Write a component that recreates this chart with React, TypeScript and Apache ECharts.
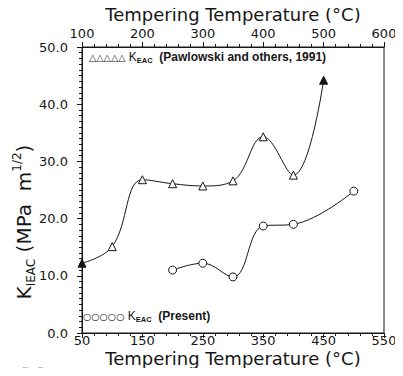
import React, { useEffect, useRef } from "react";
import * as echarts from "echarts";

// Pawlowski and others, 1991 (plotted on the top temperature axis)
const pawTemps = [100, 150, 200, 250, 300, 350, 400, 450, 500];
const pawK = [12.2, 15.1, 26.8, 26.1, 25.7, 26.6, 34.3, 27.6, 44.2];
const pawFilled = [0, 8];

// Present work (plotted on the bottom temperature axis)
const presentTemps = [200, 250, 300, 350, 400, 500];
const presentK = [11.0, 12.2, 9.8, 18.7, 19.0, 24.8];

const bottomTicks = { min: 50, max: 550, interval: 100 };
const topTicks = { min: 100, max: 600, interval: 100 };
const yTicks = { min: 0, max: 50, interval: 10 };

const FONT = "DejaVu Sans";
const INK = "#161616";

export default function App() {
  const ref = useRef<HTMLDivElement>(null);

  useEffect(() => {
    if (!ref.current) return;
    const chart = echarts.init(ref.current, null, { renderer: "svg" });

    const axisCommon = {
      type: "value" as const,
      axisLine: { show: true, onZero: false, lineStyle: { color: INK, width: 1 } },
      axisTick: { show: true, inside: false, length: 5, lineStyle: { color: INK } },
      minorTick: { show: true, splitNumber: 5, length: 3, lineStyle: { color: INK } },
      splitLine: { show: false },
      nameLocation: "middle" as const,
      nameMoveOverlap: false,
      nameTextStyle: { fontSize: 18, color: INK, fontFamily: FONT },
    };

    const pawData = pawTemps.map((t, i) => {
      const filled = pawFilled.indexOf(i) >= 0;
      return {
        value: [t, pawK[i]],
        itemStyle: { color: filled ? INK : "#fff", borderColor: INK, borderWidth: 1 },
      };
    });
    const presentData = presentTemps.map((t, i) => [t, presentK[i]]);

    const legendRich = (markSize: number) => ({
      m: { fontSize: markSize, lineHeight: 15, fontFamily: FONT, fill: INK, verticalAlign: "middle" },
      k: { fontSize: 12, lineHeight: 15, fontFamily: "Liberation Sans", fill: INK, verticalAlign: "middle" },
      t: { fontSize: 12, lineHeight: 15, fontFamily: "Liberation Sans", fill: INK, verticalAlign: "middle", fontWeight: "bold" },
      sub: { fontSize: 7.5, lineHeight: 9, fontFamily: "Liberation Sans", fill: INK, verticalAlign: "bottom", fontWeight: "bold" },
    });

    chart.setOption({
      animation: false,
      backgroundColor: "#fff",
      grid: {
        left: 82,
        right: 19,
        top: 47,
        bottom: 43,
        show: true,
        borderColor: INK,
        borderWidth: 1,
        backgroundColor: "transparent",
      },
      xAxis: [
        {
          ...axisCommon,
          position: "bottom",
          min: bottomTicks.min,
          max: bottomTicks.max,
          interval: bottomTicks.interval,
          axisLabel: { fontSize: 13, color: INK, fontFamily: FONT, margin: 1 },
          name: "Tempering Temperature (°C)",
          nameGap: 16,
          nameTextStyle: { fontSize: 18, color: INK, fontFamily: FONT, verticalAlign: "top" },
        },
        {
          ...axisCommon,
          position: "top",
          min: topTicks.min,
          max: topTicks.max,
          interval: topTicks.interval,
          axisLabel: { fontSize: 13, color: INK, fontFamily: FONT, margin: 7 },
          name: "Tempering Temperature (°C)",
          nameGap: 24,
        },
      ],
      yAxis: {
        ...axisCommon,
        min: yTicks.min,
        max: yTicks.max,
        interval: yTicks.interval,
        minorTick: { show: true, splitNumber: 10, length: 3, lineStyle: { color: INK } },
        axisLabel: {
          fontSize: 13,
          color: INK,
          fontFamily: FONT,
          margin: 14,
          formatter: (v: number) => v.toFixed(1),
        },
      },
      graphic: [
        {
          type: "text",
          x: 24,
          y: 222,
          rotation: Math.PI / 2,
          style: {
            text: "{k|K}{sub|IEAC}{t| (MPa  m}{sup|1/2}{t|)}",
            align: "center",
            verticalAlign: "middle",
            fill: INK,
            rich: {
              k: { fontSize: 20, lineHeight: 26, fontFamily: FONT, fill: INK, verticalAlign: "middle" },
              t: { fontSize: 20, lineHeight: 26, fontFamily: FONT, fill: INK, verticalAlign: "middle" },
              sub: { fontSize: 12, lineHeight: 12, fontFamily: FONT, fill: INK, verticalAlign: "bottom" },
              sup: { fontSize: 12, lineHeight: 12, fontFamily: FONT, fill: INK, verticalAlign: "top" },
            },
          },
        },
        {
          type: "text",
          x: 89,
          y: 57,
          style: {
            text: "{m|△△△△△} {k|K}{sub|EAC}{t|  (Pawlowski and others, 1991)}",
            verticalAlign: "middle",
            fill: INK,
            rich: legendRich(9.5),
          },
        },
        {
          type: "text",
          x: 83,
          y: 316,
          style: {
            text: "{m|○○○○○} {k|K}{sub|EAC}{t|  (Present)}",
            verticalAlign: "middle",
            fill: INK,
            rich: legendRich(9.5),
          },
        },
        {
          type: "text",
          x: 22,
          y: 366,
          style: { text: "Fig.7", fontSize: 9, fontFamily: FONT, fill: "#b0b0b0" },
        },
      ],
      series: [
        {
          name: "KEAC (Pawlowski and others, 1991)",
          type: "line",
          xAxisIndex: 1,
          yAxisIndex: 0,
          data: pawData,
          smooth: 0.4,
          symbol: "triangle",
          symbolSize: 8,
          lineStyle: { color: INK, width: 1 },
          itemStyle: { color: "#fff", borderColor: INK, borderWidth: 1 },
          z: 3,
        },
        {
          name: "KEAC (Present)",
          type: "line",
          xAxisIndex: 0,
          yAxisIndex: 0,
          data: presentData,
          smooth: 0.4,
          symbol: "circle",
          symbolSize: 8,
          lineStyle: { color: INK, width: 1 },
          itemStyle: { color: "#fff", borderColor: INK, borderWidth: 1 },
          z: 3,
        },
      ],
    });

    return () => chart.dispose();
  }, []);

  return <div ref={ref} style={{ width: 403, height: 376, margin: -8 }} />;
}
